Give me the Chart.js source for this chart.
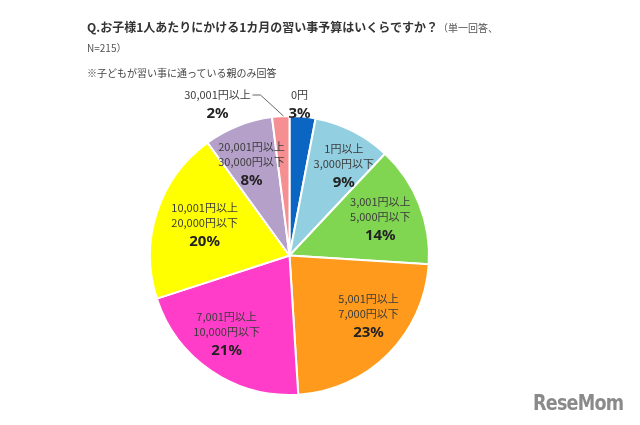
<!DOCTYPE html>
<html lang="ja">
<head>
<meta charset="utf-8">
<script src="https://cdn.jsdelivr.net/npm/chart.js@4.4.1/dist/chart.umd.min.js"></script>
<style>
  html, body { margin: 0; padding: 0; background: #fff; }
  #wrap { position: relative; width: 640px; height: 425px; overflow: hidden;
          font-family: "Noto Sans CJK JP", "Noto Sans", sans-serif; }
  #budgetChart { position: absolute; left: 0; top: 0; }
  .title { position: absolute; left: 87px; top: 18px; font-size: 12px; font-weight: bold; color: #333; white-space: nowrap; }
  .title small { font-size: 10px; font-weight: normal; color: #555; }
  .n { position: absolute; left: 87px; top: 40px; font-size: 10px; color: #555; }
  .note { position: absolute; left: 87px; top: 65px; font-size: 10px; color: #444; }
  .logo { position: absolute; left: 533px; top: 390px; font-family: "DejaVu Sans", sans-serif;
          font-weight: bold; font-size: 22px; color: #8a8a8a; letter-spacing: -1px;
          transform: scaleX(0.8); transform-origin: left top; }
</style>
</head>
<body>
<div id="wrap">
  <canvas id="budgetChart" width="640" height="425"></canvas>
  <div class="title">Q.お子様1人あたりにかける1カ月の習い事予算はいくらですか？<small>（単一回答、</small></div>
  <div class="n">N=215）</div>
  <div class="note">※子どもが習い事に通っている親のみ回答</div>
  <div class="logo">ReseMom</div>
</div>
<script>
// --- data ---
const rangeLines = [
    ["0円"],
    ["1円以上", "3,000円以下"],
    ["3,001円以上", "5,000円以下"],
    ["5,001円以上", "7,000円以下"],
    ["7,001円以上", "10,000円以下"],
    ["10,001円以上", "20,000円以下"],
    ["20,001円以上", "30,000円以下"],
    ["30,001円以上"]
];
const shares = [3, 9, 14, 23, 21, 20, 8, 2];
const sliceColors = ["#0a66c2", "#92cfe0", "#80d651", "#ff9a1c", "#ff3dc8", "#ffff00", "#b5a0c9", "#f58f92"];

// small nudges so the labels sit where the original put them
const labelNudge = [[0, 0], [10, -2], [0, 0], [10, -8], [-8, -2], [8, 0], [-2, 0], [0, 0]];

// label plugin: text inside each slice, two small slices outside
const sliceLabels = {
    id: "sliceLabels",
    afterDatasetsDraw(chart) {
        const ctx = chart.ctx;
        const arcs = chart.getDatasetMeta(0).data;
        ctx.save();
        ctx.textAlign = "center";
        ctx.textBaseline = "middle";
        arcs.forEach((arc, i) => {
            const mid = (arc.startAngle + arc.endAngle) / 2;
            const lines = rangeLines[i];
            let x, y;
            if (i === 0) {
                x = arc.x + 10; y = arc.y - arc.outerRadius - 11;
            } else if (i === rangeLines.length - 1) {
                x = arc.x - 72; y = arc.y - arc.outerRadius - 11;
                ctx.strokeStyle = "#666";
                ctx.lineWidth = 1;
                ctx.beginPath();
                ctx.moveTo(x + 35, y - 10);
                ctx.lineTo(x + 43, y - 10);
                ctx.lineTo(arc.x - 6, arc.y - arc.outerRadius);
                ctx.stroke();
            } else {
                const r = arc.outerRadius * 0.7;
                x = arc.x + Math.cos(mid) * r + labelNudge[i][0];
                y = arc.y + Math.sin(mid) * r + labelNudge[i][1];
            }
            const top = y - (lines.length * 15 + 19) / 2 + 7;
            ctx.fillStyle = "#3c3c3c";
            ctx.font = "11px 'Noto Sans CJK JP', sans-serif";
            lines.forEach((t, k) => ctx.fillText(t, x, top + k * 15));
            ctx.fillStyle = "#222";
            ctx.font = "bold 15px 'Noto Sans', 'Noto Sans CJK JP', sans-serif";
            ctx.fillText(shares[i] + "%", x, top + lines.length * 15 + 4);
        });
        ctx.restore();
    }
};

new Chart(document.getElementById("budgetChart"), {
    type: "pie",
    data: {
        labels: rangeLines.map(l => l.join("")),
        datasets: [{
            data: shares,
            backgroundColor: sliceColors,
            borderColor: "#fff",
            borderWidth: 2
        }]
    },
    options: {
        responsive: false,
        animation: false,
        layout: { padding: { left: 149, right: 210, top: 115, bottom: 29 } },
        plugins: {
            legend: { display: false },
            tooltip: { enabled: false }
        }
    },
    plugins: [sliceLabels]
});
</script>
</body>
</html>
